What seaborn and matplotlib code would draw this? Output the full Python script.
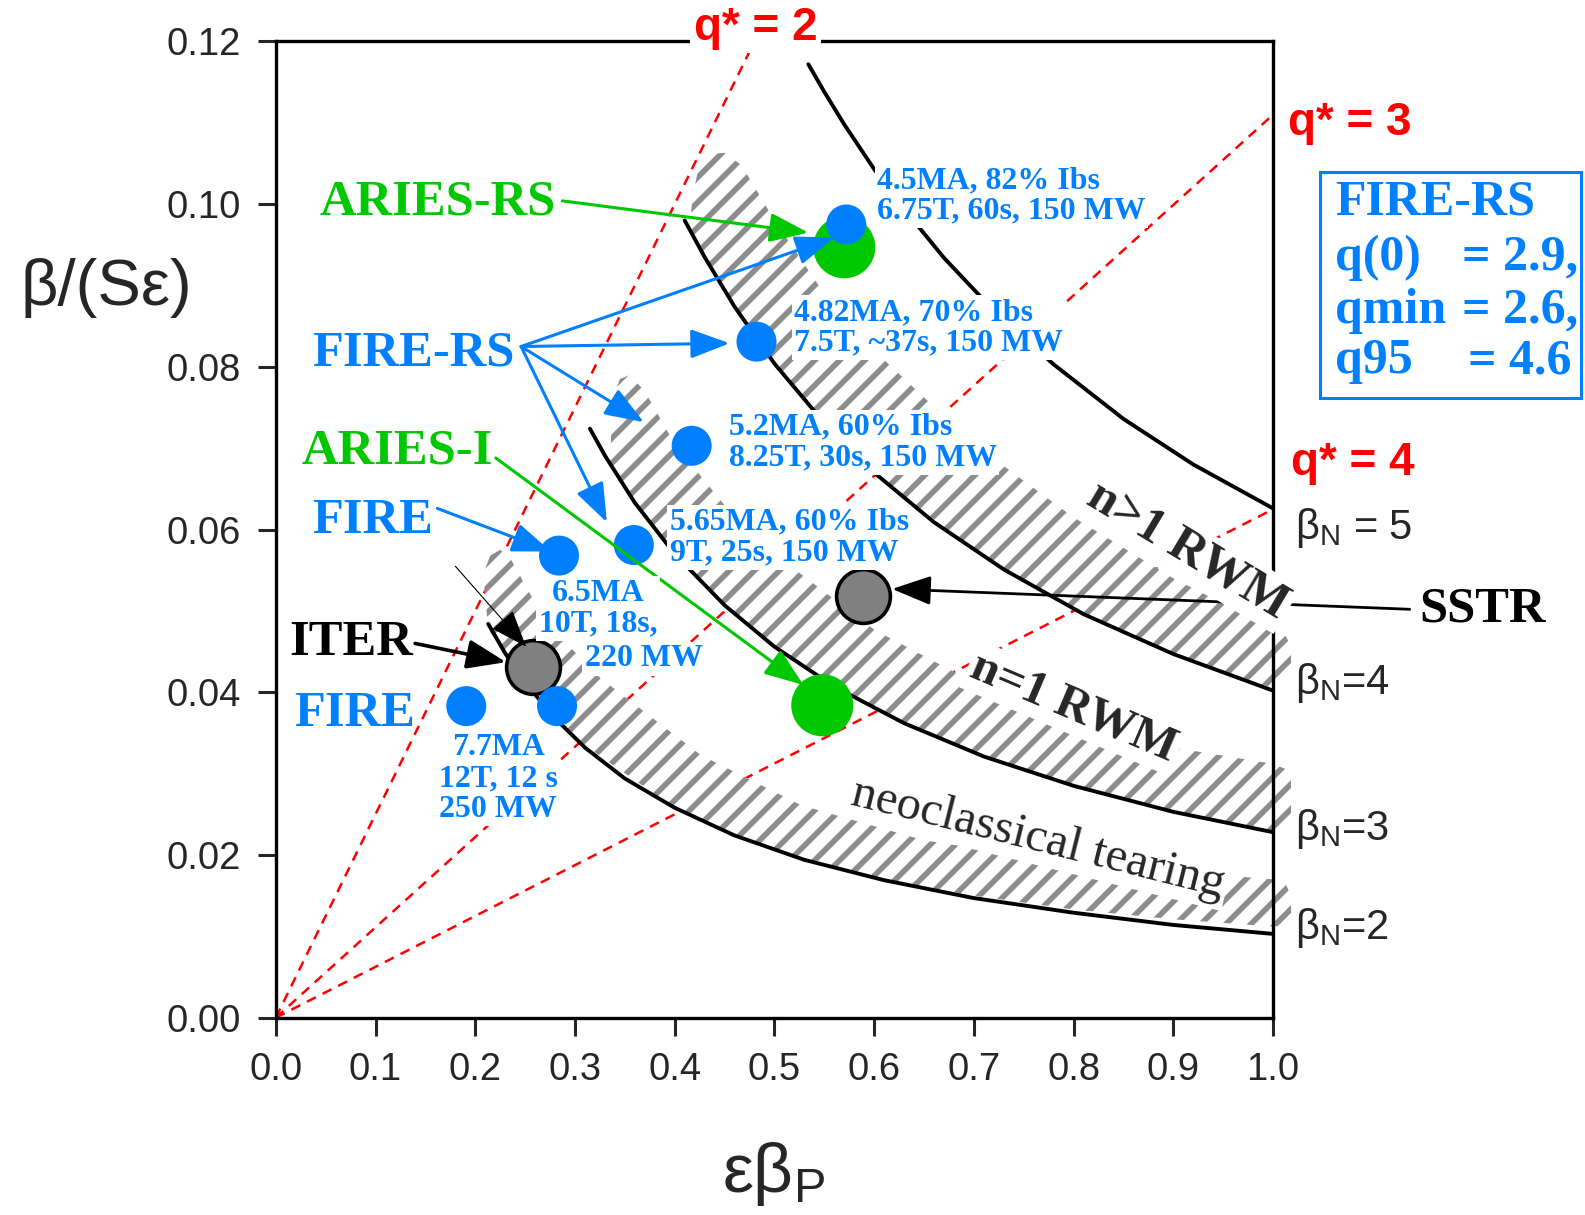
import numpy as np
import matplotlib
matplotlib.use("Agg")
import matplotlib.pyplot as plt
import seaborn as sns
from matplotlib.patches import Rectangle

# ---- data ----
# machines
fire_rs_x = [0.572, 0.482, 0.417, 0.359]
fire_rs_y = [0.0975, 0.0831, 0.0703, 0.0581]
fire_x = [0.284, 0.191, 0.282]
fire_y = [0.0568, 0.0383, 0.0383]
aries_x = [0.570, 0.548]          # ARIES-RS, ARIES-I
aries_y = [0.0947, 0.0384]
other_x = [0.258, 0.589]          # ITER, SSTR
other_y = [0.0431, 0.0518]

# beta_N contours
bn2_x = [0.213, 0.23, 0.25, 0.28, 0.31, 0.35, 0.40, 0.46, 0.53, 0.61, 0.70, 0.80, 0.90, 1.00]
bn2_y = [0.0484, 0.0448, 0.0412, 0.0368, 0.0332, 0.0294, 0.0258, 0.0224, 0.0194, 0.0169, 0.0147, 0.0129, 0.0114, 0.0103]
bn3_x = [0.315, 0.33, 0.36, 0.40, 0.45, 0.50, 0.56, 0.63, 0.71, 0.80, 0.90, 1.00]
bn3_y = [0.0724, 0.0691, 0.0633, 0.0570, 0.0507, 0.0456, 0.0407, 0.0362, 0.0321, 0.0285, 0.0253, 0.0228]
bn4_x = [0.41, 0.43, 0.46, 0.50, 0.55, 0.60, 0.66, 0.73, 0.81, 0.90, 1.00]
bn4_y = [0.0980, 0.0935, 0.0874, 0.0804, 0.0731, 0.0670, 0.0609, 0.0551, 0.0496, 0.0447, 0.0402]
bn5_x = [0.534, 0.55, 0.57, 0.60, 0.63, 0.67, 0.72, 0.78, 0.85, 0.92, 1.00]
bn5_y = [0.1172, 0.1138, 0.1098, 0.1043, 0.0994, 0.0934, 0.0869, 0.0803, 0.0736, 0.0680, 0.0626]

# q* lines
q2_x = [0.0, 0.478]
q2_y = [0.0, 0.1195]
q3_x = [0.0, 1.0]
q3_y = [0.0, 0.111]
q4_x = [0.0, 1.0]
q4_y = [0.0, 0.0625]

# hatched bands (top edge, bottom edge)
ntm_top_x = [0.208, 0.215, 0.225, 0.235, 0.26, 0.29, 0.325, 0.426, 0.527, 0.65, 0.80, 0.90, 1.0, 1.012, 1.018]
ntm_top_y = [0.0545, 0.0568, 0.0575, 0.0565, 0.0510, 0.0462, 0.0418, 0.0323, 0.0261, 0.0218, 0.0190, 0.0180, 0.0170, 0.0166, 0.0150]
ntm_bot_x = [0.213, 0.25, 0.30, 0.40, 0.50, 0.60, 0.70, 0.80, 0.90, 1.0, 1.012, 1.018]
ntm_bot_y = [0.0478, 0.0412, 0.0343, 0.0258, 0.0206, 0.0172, 0.0150, 0.0133, 0.0121, 0.0112, 0.0114, 0.0125]

rwm1_top_x = [0.338, 0.345, 0.355, 0.37, 0.40, 0.45, 0.50, 0.60, 0.70, 0.80, 0.90, 1.0, 1.012, 1.018]
rwm1_top_y = [0.0760, 0.0785, 0.0790, 0.0770, 0.0705, 0.0630, 0.0570, 0.0477, 0.0412, 0.0363, 0.0332, 0.0312, 0.0306, 0.0290]
rwm1_bot_x = [0.335, 0.35, 0.40, 0.45, 0.50, 0.60, 0.70, 0.80, 0.90, 1.0, 1.012, 1.018]
rwm1_bot_y = [0.0681, 0.0651, 0.0570, 0.0507, 0.0456, 0.0380, 0.0326, 0.0285, 0.0253, 0.0230, 0.0234, 0.0248]

rwm2_top_x = [0.418, 0.424, 0.435, 0.45, 0.467, 0.50, 0.55, 0.60, 0.70, 0.80, 0.90, 1.0, 1.012, 1.018]
rwm2_top_y = [0.1010, 0.1045, 0.1062, 0.1063, 0.1048, 0.0980, 0.0890, 0.0820, 0.0705, 0.0615, 0.0540, 0.0478, 0.0470, 0.0458]
rwm2_bot_x = [0.415, 0.45, 0.50, 0.55, 0.60, 0.70, 0.80, 0.90, 1.0, 1.012, 1.018]
rwm2_bot_y = [0.0969, 0.0893, 0.0804, 0.0731, 0.0670, 0.0574, 0.0503, 0.0447, 0.0405, 0.0410, 0.0425]

x_ticks = [0.0, 0.1, 0.2, 0.3, 0.4, 0.5, 0.6, 0.7, 0.8, 0.9, 1.0]
y_ticks = [0.00, 0.02, 0.04, 0.06, 0.08, 0.10, 0.12]


def pt(v):
    # sizes below are worked out for 100 dpi, the figure is saved at 150 dpi
    return v * 100 / 150


# ---- style ----
sns.set_style("ticks")
plt.rcParams['font.family'] = ['Liberation Sans', 'DejaVu Sans']
plt.rcParams['mathtext.fontset'] = 'custom'
plt.rcParams['mathtext.rm'] = 'Liberation Sans'
plt.rcParams['hatch.linewidth'] = 2.7

blue = '#0080FF'
green = '#00C800'
red = '#FF0000'
serif = ['Liberation Serif', 'DejaVu Serif']
wbox = dict(facecolor='white', edgecolor='none', boxstyle='square,pad=0.08')

fig = plt.figure(figsize=(1585 / 150, 1215 / 150), dpi=150)
ax = fig.add_axes([0.174, 0.1624, 0.6292, 0.8035])

# q* dashed lines
for qx, qy in [(q2_x, q2_y), (q3_x, q3_y), (q4_x, q4_y)]:
    sns.lineplot(x=qx, y=qy, ax=ax, color=red, lw=pt(1.8), linestyle=(0, (4, 3)),
                 sort=False, estimator=None, zorder=1)

# hatched bands
for tx, ty, bx, by in [(ntm_top_x, ntm_top_y, ntm_bot_x, ntm_bot_y),
                       (rwm1_top_x, rwm1_top_y, rwm1_bot_x, rwm1_bot_y),
                       (rwm2_top_x, rwm2_top_y, rwm2_bot_x, rwm2_bot_y)]:
    px = np.concatenate([tx, bx[::-1]])
    py = np.concatenate([ty, by[::-1]])
    ax.fill(px, py, facecolor='white', edgecolor='#8c8c8c', hatch='//',
            lw=0, zorder=2, clip_on=False)

# beta_N contours
for cx, cy in [(bn2_x, bn2_y), (bn3_x, bn3_y), (bn4_x, bn4_y), (bn5_x, bn5_y)]:
    sns.lineplot(x=cx, y=cy, ax=ax, color='black', lw=pt(2.8),
                 sort=False, estimator=None, zorder=3)

# machines
sns.scatterplot(x=aries_x, y=aries_y, ax=ax, s=pt(pt(2000)), color=green,
                edgecolor='none', zorder=4)
sns.scatterplot(x=other_x, y=other_y, ax=ax, s=pt(pt(1500)), color='#808080',
                edgecolor='black', linewidth=pt(2.6), zorder=4)
sns.scatterplot(x=fire_rs_x + fire_x, y=fire_rs_y + fire_y, ax=ax, s=pt(pt(830)),
                color=blue, edgecolor='none', zorder=4.5)

# arrows
head = '-|>,head_length=0.8,head_width=0.3'
arrows = [
    ((0.2874, 0.1004), (0.534, 0.0965), green, 2.2),
    ((0.246, 0.0825), (0.560, 0.0959), blue, 2.2),
    ((0.246, 0.0825), (0.455, 0.0829), blue, 2.2),
    ((0.246, 0.0825), (0.369, 0.0732), blue, 2.2),
    ((0.246, 0.0825), (0.332, 0.0609), blue, 2.2),
    ((0.2206, 0.0688), (0.529, 0.0409), green, 2.2),
    ((0.162, 0.0626), (0.276, 0.0573), blue, 2.2),
    ((0.1397, 0.0460), (0.231, 0.0437), 'black', 2.6),
    ((1.137, 0.0502), (0.618, 0.0527), 'black', 2.0),
    ((0.180, 0.0555), (0.251, 0.0456), 'black', 0.8),
]
for start, end, col, lw in arrows:
    ax.annotate('', xy=end, xytext=start, annotation_clip=False,
                arrowprops=dict(arrowstyle=head, color=col, lw=pt(lw), shrinkA=0, shrinkB=0,
                                mutation_scale=pt(30)), zorder=5.5)

# big labels
big = dict(family=serif, weight='bold', fontsize=pt(36.5), va='center', ha='left', zorder=6)
ax.text(0.0435, 0.1002, 'ARIES-RS', color=green, **big)
ax.text(0.0364, 0.0816, 'FIRE-RS', color=blue, **big)
ax.text(0.0253, 0.0696, 'ARIES-I', color=green, **big)
ax.text(0.0364, 0.0611, 'FIRE', color=blue, **big)
ax.text(0.0132, 0.0461, 'ITER', color='black', **big)
ax.text(0.0182, 0.0373, 'FIRE', color=blue, **big)
ax.text(1.147, 0.0502, 'SSTR', color='black', bbox=wbox, **big)

# small blue annotations
small = dict(family=serif, weight='bold', fontsize=pt(23), color=blue, linespacing=1.08,
             va='center', zorder=6, bbox=wbox)
ax.text(0.603, 0.1010, '4.5MA, 82% Ibs\n6.75T, 60s, 150 MW', ha='left', **small)
ax.text(0.520, 0.0848, '4.82MA, 70% Ibs\n7.5T, ~37s, 150 MW', ha='left', **small)
ax.text(0.454, 0.0707, '5.2MA, 60% Ibs\n8.25T, 30s, 150 MW', ha='left', **small)
ax.text(0.395, 0.0590, '5.65MA, 60% Ibs\n9T, 25s, 150 MW', ha='left', **small)
ax.text(0.323, 0.0503, '6.5MA\n10T, 18s,', ha='center', multialignment='center', **small)
ax.text(0.310, 0.0441, '220 MW', ha='left', **small)
ax.text(0.223, 0.0294, '7.7MA\n12T, 12 s\n250 MW', ha='center', multialignment='center', **small)

# region labels
ax.text(0.914, 0.0574, 'n>1 RWM', family=serif, weight='bold', fontsize=pt(36), rotation=-31,
        ha='center', va='center', rotation_mode='anchor', zorder=6, bbox=wbox)
ax.text(0.800, 0.0381, 'n=1 RWM', family=serif, weight='bold', fontsize=pt(35), rotation=-23,
        ha='center', va='center', rotation_mode='anchor', zorder=6, bbox=wbox)
ax.text(0.764, 0.0220, 'neoclassical tearing', family=serif, fontsize=pt(35), rotation=-14,
        ha='center', va='center', rotation_mode='anchor', zorder=6, bbox=wbox)

# q* labels
qlab = dict(color=red, weight='bold', fontsize=pt(33), va='center', zorder=6, bbox=wbox)
ax.text(0.481, 0.1217, 'q* = 2', ha='center', **qlab)
ax.text(1.015, 0.1100, 'q* = 3', ha='left', **qlab)
ax.text(1.018, 0.0682, 'q* = 4', ha='left', **qlab)

# beta_N labels
bl = dict(fontsize=pt(30), ha='left', va='center', zorder=6, bbox=wbox)
ax.text(1.022, 0.0602, r'$\mathrm{β_N}$ = 5', **bl)
ax.text(1.022, 0.0412, r'$\mathrm{β_N}$=4', **bl)
ax.text(1.022, 0.0232, r'$\mathrm{β_N}$=3', **bl)
ax.text(1.022, 0.0110, r'$\mathrm{β_N}$=2', **bl)

# FIRE-RS parameter box
ax.add_patch(Rectangle((1.047, 0.0762), 0.262, 0.0278, fill=False, edgecolor=blue,
                       lw=pt(2.2), clip_on=False, zorder=6))
boxt = dict(family=serif, weight='bold', fontsize=pt(36), color=blue, va='baseline', zorder=6)
ax.text(1.062, 0.0987, 'FIRE-RS', ha='left', **boxt)
for yb, left, xr, right in [(0.0919, 'q(0)', 1.189, '= 2.9,'), (0.0854, 'qmin', 1.189, '= 2.6,'),
                            (0.0792, 'q95', 1.195, '= 4.6')]:
    ax.text(1.062, yb, left, ha='left', **boxt)
    ax.text(xr, yb, right, ha='left', **boxt)

# axes
ax.set_xlim(0, 1.0)
ax.set_ylim(0, 0.12)
ax.set_xticks(x_ticks)
ax.set_yticks(y_ticks)
ax.set_xticklabels([f'{v:.1f}' for v in x_ticks])
ax.set_yticklabels([f'{v:.2f}' for v in y_ticks])
ax.tick_params(direction='out', length=pt(13), width=pt(2.2), labelsize=pt(27.5), pad=pt(12))
for sp in ax.spines.values():
    sp.set_visible(True)
    sp.set_linewidth(pt(2.4))
    sp.set_color('black')

fig.text(0.067, 0.763, 'β/(Sε)', fontsize=pt(47), ha='center', va='center')
fig.text(0.488, 0.034, r'$\mathrm{εβ_P}$', fontsize=pt(50), ha='center', va='center')

fig.savefig('out.png', dpi=150)
